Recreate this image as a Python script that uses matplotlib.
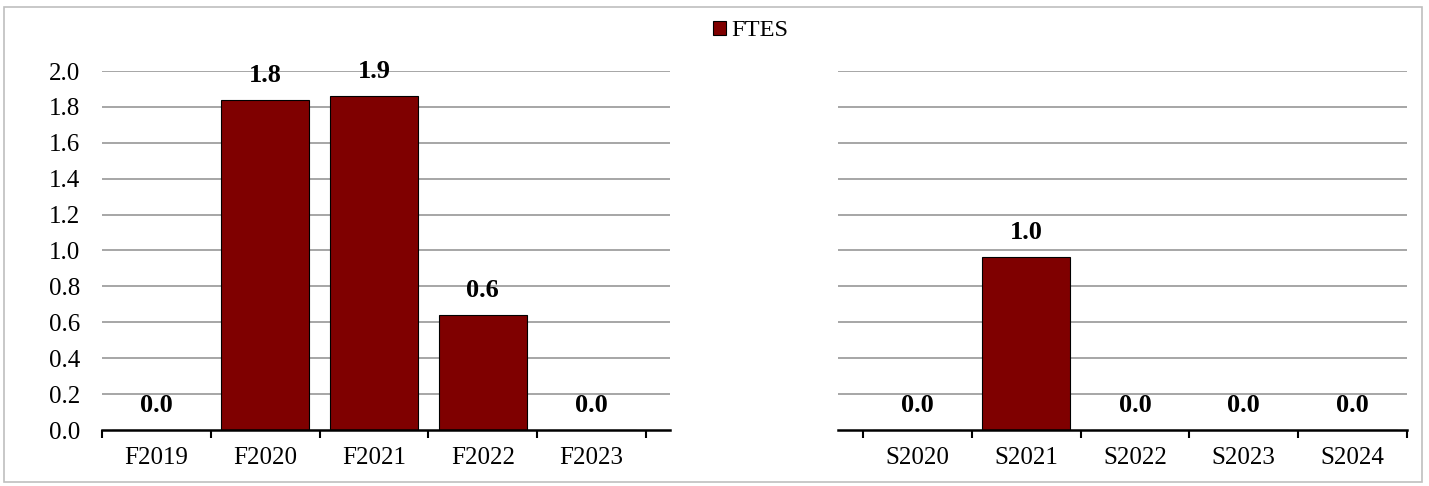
import matplotlib
matplotlib.use("Agg")
import matplotlib.pyplot as plt
from matplotlib.patches import Rectangle, Patch
from matplotlib.ticker import FixedLocator

left_categories = ["F2019", "F2020", "F2021", "F2022", "F2023"]
left_values = [0.0, 1.84, 1.86, 0.64, 0.0]
right_categories = ["S2020", "S2021", "S2022", "S2023", "S2024"]
right_values = [0.0, 0.965, 0.0, 0.0, 0.0]
y_ticks = [0.0, 0.2, 0.4, 0.6, 0.8, 1.0, 1.2, 1.4, 1.6, 1.8, 2.0]
series_name = "FTES"

plt.rcParams['font.family'] = ['Liberation Serif', 'DejaVu Serif']

W, H = 1429, 486
fig = plt.figure(figsize=(W / 100, H / 100), dpi=100)

bar_color = "#7F0000"
grid_color = "#A6A6A6"

def px_axes(x0, x1, y_top, y_bot):
    return fig.add_axes([x0 / W, 1 - y_bot / H, (x1 - x0) / W, (y_bot - y_top) / H])

axL = px_axes(102, 670, 71, 430)
axR = px_axes(838, 1407, 71, 430)

def style(ax, cats, vals, xlim, show_y):
    n = len(cats)
    xs = list(range(n))
    ax.bar(xs, vals, width=0.81, color=bar_color, edgecolor="black", linewidth=0.8, zorder=3)
    for x, v in zip(xs, vals):
        ax.annotate(f"{v:.1f}", (x, v), xytext=(0, 17.5), textcoords="offset points",
                    ha="center", va="center", fontsize=19, fontweight="bold", zorder=4)
    ax.set_ylim(0, 2.0)
    ax.set_xlim(*xlim)
    ax.set_yticks(y_ticks)
    for y in y_ticks[1:]:
        ax.axhline(y, color=grid_color, linewidth=1.4, zorder=1)
    ax.set_xticks(xs)
    ax.set_xticklabels(cats, fontsize=18)
    ax.xaxis.set_minor_locator(FixedLocator([i - 0.5 for i in range(n + 1)]))
    ax.tick_params(axis="x", which="major", length=0, pad=12.5)
    ax.tick_params(axis="x", which="minor", length=6, width=1.5, direction="out", color="black")
    for s in ["top", "right", "left"]:
        ax.spines[s].set_visible(False)
    ax.spines["bottom"].set_linewidth(1.8)
    ax.spines["bottom"].set_zorder(5)
    if show_y:
        ax.set_yticklabels([f"{y:.1f}" for y in y_ticks], fontsize=18)
        ax.tick_params(axis="y", length=0, pad=16)
    else:
        ax.set_yticklabels([])
        ax.tick_params(axis="y", length=0)
    ax.set_facecolor("none")

style(axL, left_categories, left_values, (-0.5, 4.72), True)
style(axR, right_categories, right_values, (-0.73, 4.5), False)

fig.legend(handles=[Patch(facecolor=bar_color, edgecolor="black", linewidth=0.8, label=series_name)],
           loc="center", bbox_to_anchor=(751 / W, 1 - 31 / H), frameon=False,
           fontsize=17.6, handlelength=0.5, handleheight=0.5, handletextpad=0.25)

fig.add_artist(Rectangle((4 / W, 1 - 482 / H), (1422 - 4) / W, (482 - 7) / H,
                         transform=fig.transFigure, fill=False, edgecolor="#BFBFBF", linewidth=1.2))

fig.savefig("out.png", dpi=100)
